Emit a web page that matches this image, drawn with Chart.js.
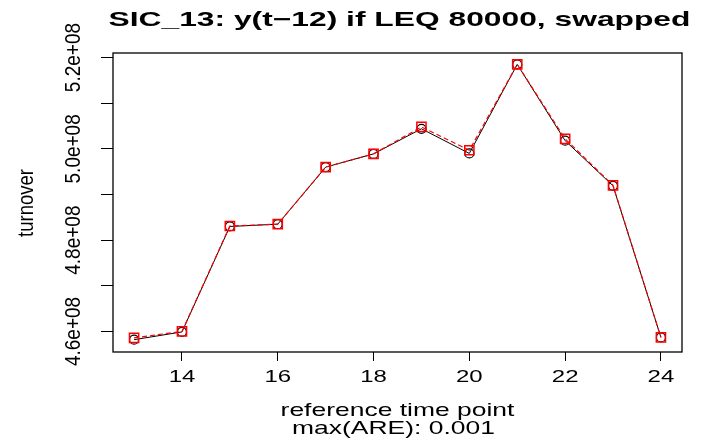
<!DOCTYPE html>
<html lang="en">

<head>
  <meta charset="UTF-8">
  <script src="https://cdn.jsdelivr.net/npm/chart.js"></script>
  <title>SIC_13</title>
  <style>
    body { margin: 0; background: #fff; }
  </style>
</head>

<body>

  <div>
    <canvas id="myChart" width="702" height="440"></canvas>
  </div>

  <script>
    // time points and the two turnover series (black = original, red = swapped)
    const timePoints = [13, 14, 15, 16, 17, 18, 19, 20, 21, 22, 23, 24];
    const turnover = [4.582e8, 4.599e8, 4.830e8, 4.835e8, 4.960e8, 4.989e8, 5.044e8, 4.990e8, 5.185e8, 5.018e8, 4.919e8, 4.587e8];
    const turnoverSwapped = [4.586e8, 4.600e8, 4.831e8, 4.835e8, 4.960e8, 4.989e8, 5.048e8, 4.997e8, 5.185e8, 5.022e8, 4.920e8, 4.587e8];

    const xTicks = [14, 16, 18, 20, 22, 24];
    const yTicks = [4.6e8, 4.7e8, 4.8e8, 4.9e8, 5.0e8, 5.1e8, 5.2e8];
    const yLabels = { 4.6e8: '4.6e+08', 4.8e8: '4.8e+08', 5.0e8: '5.0e+08', 5.2e8: '5.2e+08' };

    const title = 'SIC_13: y(t\u221212) if LEQ 80000, swapped';
    const xTitle = 'reference time point';
    const subTitle = 'max(ARE): 0.001';
    const yTitle = 'turnover';

    const FONT = '"Liberation Sans", Arial, sans-serif';

    // R output looks stretched sideways, so text is drawn with a horizontal scale
    function stretchText(ctx, txt, x, y, sx, rot, font) {
      ctx.save();
      ctx.translate(x, y);
      ctx.scale(sx, 1);
      if (rot) ctx.rotate(rot);
      ctx.font = font;
      ctx.fillStyle = '#000';
      ctx.textAlign = 'center';
      ctx.textBaseline = 'alphabetic';
      ctx.fillText(txt, 0, 0);
      ctx.restore();
    }

    const rStyle = {
      id: 'rStyle',
      beforeDraw(chart) {
        const ctx = chart.ctx;
        ctx.save();
        ctx.fillStyle = '#fff';
        ctx.fillRect(0, 0, chart.width, chart.height);
        ctx.restore();
      },
      afterDraw(chart) {
        const ctx = chart.ctx;
        const a = chart.chartArea;
        const xs = chart.scales.x;
        const ys = chart.scales.y;
        const mid = (a.left + a.right) / 2;

        // box
        ctx.save();
        ctx.strokeStyle = '#000';
        ctx.lineWidth = 1.3;
        ctx.strokeRect(a.left, a.top, a.right - a.left, a.bottom - a.top);
        ctx.restore();

        // title
        stretchText(ctx, title, mid + 2, 26, 1.55, 0, 'bold 20.5px ' + FONT);

        // x tick labels
        xTicks.forEach(v => {
          stretchText(ctx, String(v), xs.getPixelForValue(v), 382, 1.41, 0, '17px ' + FONT);
        });

        // y tick labels, rotated like R's las=0
        yTicks.forEach(v => {
          if (yLabels[v]) {
            stretchText(ctx, yLabels[v], 80, ys.getPixelForValue(v), 1.15, -Math.PI / 2, '19px ' + FONT);
          }
        });

        // axis titles
        stretchText(ctx, xTitle, mid, 416, 1.43, 0, '18.5px ' + FONT);
        stretchText(ctx, subTitle, mid - 4, 434, 1.43, 0, '18.5px ' + FONT);
        stretchText(ctx, yTitle, 33, 203, 1.2, -Math.PI / 2, '18.5px ' + FONT);
      }
    };

    const myChart = new Chart(
      document.getElementById('myChart'),
      {
        type: 'line',
        data: {
          datasets: [{
            label: 'turnover',
            data: timePoints.map((t, i) => ({ x: t, y: turnover[i] })),
            borderColor: '#000',
            borderWidth: 1,
            backgroundColor: 'transparent',
            pointStyle: 'circle',
            pointRadius: 4.5,
            pointBorderColor: '#000',
            pointBorderWidth: 1.2,
            pointBackgroundColor: 'transparent',
            tension: 0,
            order: 2
          },
          {
            label: 'swapped',
            data: timePoints.map((t, i) => ({ x: t, y: turnoverSwapped[i] })),
            borderColor: '#ff0000',
            borderWidth: 1.2,
            borderDash: [5, 3],
            backgroundColor: 'transparent',
            pointStyle: 'rect',
            pointRadius: 6.5,
            pointBorderColor: '#ff0000',
            pointBorderWidth: 1.5,
            pointBackgroundColor: 'transparent',
            tension: 0,
            order: 1
          }]
        },
        options: {
          responsive: false,
          animation: false,
          events: [],
          layout: { padding: { top: 53, right: 20, left: 0, bottom: 0 } },
          plugins: {
            legend: { display: false },
            tooltip: { enabled: false }
          },
          scales: {
            x: {
              type: 'linear',
              min: 12.56,
              max: 24.44,
              afterBuildTicks: s => { s.ticks = xTicks.map(v => ({ value: v })); },
              afterFit: s => { s.height = 88; },
              ticks: { display: false },
              border: { display: false },
              grid: { drawOnChartArea: false, drawTicks: true, tickLength: 9, color: '#000', lineWidth: 1 }
            },
            y: {
              min: 4.555e8,
              max: 5.21e8,
              afterBuildTicks: s => { s.ticks = yTicks.map(v => ({ value: v })); },
              afterFit: s => { s.width = 113; },
              ticks: { display: false },
              border: { display: false },
              grid: { drawOnChartArea: false, drawTicks: true, tickLength: 12, color: '#000', lineWidth: 1 }
            }
          }
        },
        plugins: [rStyle]
      }
    );
  </script>

</body>

</html>
